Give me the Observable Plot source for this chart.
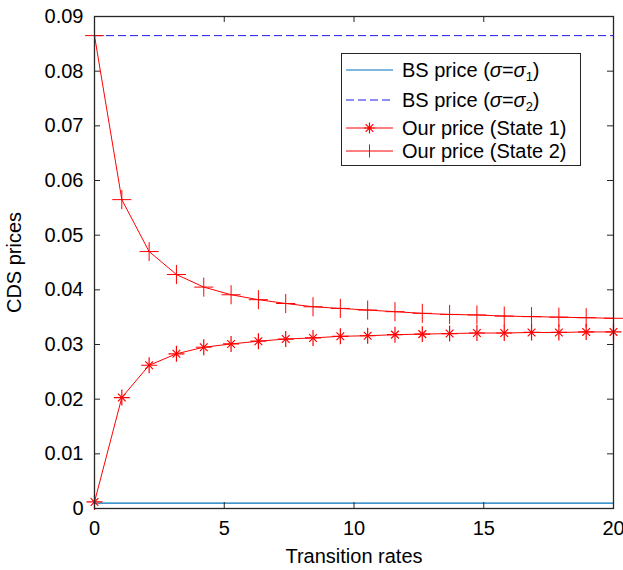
<!DOCTYPE html>
<html>
<head>
<meta charset="utf-8">
<script src="https://cdn.jsdelivr.net/npm/d3@7"></script>
<script src="https://cdn.jsdelivr.net/npm/@observablehq/plot@0.6"></script>
<style>
  html, body { margin: 0; padding: 0; background: #fff; }
  #wrap { position: relative; width: 623px; height: 570px; font-family: "Liberation Sans", Arial, Helvetica, sans-serif; }
  #wrap svg.plot { overflow: visible; }
  #legend { position: absolute; left: 341px; top: 53px; width: 240px; height: 113px; border: 1px solid #262626; background: #fff; box-sizing: border-box; }
  .row { position: absolute; left: 0; height: 24px; font-size: 20px; line-height: 24px; white-space: nowrap; color: #000; }
  .row svg { position: absolute; left: 4px; top: 0; }
  .row span { position: absolute; left: 60px; top: 0; }
  sub { font-size: 13px; vertical-align: -4px; line-height: 0; }
</style>
</head>
<body>
<div id="wrap"></div>
<script>
// ---- data ----
const transitionRates = d3.range(20).map(i => i * 20 / 19);
const state1Prices = [0.0012, 0.0203, 0.0262, 0.0283, 0.0295, 0.0301, 0.0306, 0.0310, 0.0312, 0.0315,
                      0.0316, 0.0318, 0.0319, 0.0320, 0.0321, 0.0321, 0.0322, 0.0322, 0.0323, 0.0323];
const state2Prices = [0.0865, 0.0565, 0.0470, 0.0428, 0.0405, 0.0391, 0.0382, 0.0375, 0.0369, 0.0366,
                      0.0363, 0.0360, 0.0357, 0.0355, 0.0354, 0.0352, 0.0351, 0.0350, 0.0349, 0.0348];
const bsPriceSigma1 = 0.00097;
const bsPriceSigma2 = 0.0865;
const xTicks = [0, 5, 10, 15, 20];
const yTicks = [0, 0.01, 0.02, 0.03, 0.04, 0.05, 0.06, 0.07, 0.08, 0.09];
const yTickLabels = ["0", "0.01", "0.02", "0.03", "0.04", "0.05", "0.06", "0.07", "0.08", "0.09"];
const legendLabels = [
  'BS price (<i>σ</i>=<i>σ</i><sub>1</sub>)',
  'BS price (<i>σ</i>=<i>σ</i><sub>2</sub>)',
  'Our price (State 1)',
  'Our price (State 2)'
];

const s1 = transitionRates.map((x, i) => ({x, y: state1Prices[i]}));
const s2 = transitionRates.map((x, i) => ({x, y: state2Prices[i]}));

const W = 623, H = 570, mL = 94, mR = 10, mT = 16, mB = 62;
const pw = W - mL - mR, ph = H - mT - mB, tk = 6;
const frameColor = "#262626";
const red = "#ff0000";

const chart = Plot.plot({
  width: W, height: H,
  marginLeft: mL, marginRight: mR, marginTop: mT, marginBottom: mB,
  style: {fontFamily: "'Liberation Sans', Arial, Helvetica, sans-serif", fontSize: "20px", color: "#000", background: "#fff", overflow: "visible"},
  x: {domain: [0, 20]},
  y: {domain: [0, 0.09]},
  marks: [
    Plot.ruleY([bsPriceSigma1], {stroke: "#0072BD", strokeWidth: 1.2}),
    Plot.ruleY([bsPriceSigma2], {stroke: "#1a1ae6", strokeWidth: 1, strokeDasharray: "8,4"}),
    Plot.line(s2, {x: "x", y: "y", stroke: red, strokeWidth: 1}),
    Plot.line(s1, {x: "x", y: "y", stroke: red, strokeWidth: 1}),
    Plot.dot(s2, {x: "x", y: "y", symbol: "plus", r: 6.2, stroke: red, strokeWidth: 1}),
    Plot.dot(s1, {x: "x", y: "y", symbol: "plus", r: 5.2, stroke: red, strokeWidth: 1.2}),
    Plot.dot(s1, {x: "x", y: "y", symbol: "times", r: 3.6, stroke: red, strokeWidth: 1.2}),
    Plot.tickX(xTicks, {x: d => d, stroke: frameColor, insetTop: ph - tk}),
    Plot.tickX(xTicks, {x: d => d, stroke: frameColor, insetBottom: ph - tk}),
    Plot.tickY(yTicks, {y: d => d, stroke: frameColor, insetRight: pw - tk}),
    Plot.tickY(yTicks, {y: d => d, stroke: frameColor, insetLeft: pw - tk}),
    Plot.frame({stroke: frameColor, strokeWidth: 1.3}),
    Plot.axisX(xTicks, {tickSize: 0, tickPadding: 12, tickFormat: d => String(d),
      label: "Transition rates", labelAnchor: "center", labelArrow: "none", labelOffset: 54}),
    Plot.axisY(yTicks, {tickSize: 0, tickPadding: 11, tickFormat: (d, i) => yTickLabels[i],
      label: "CDS prices", labelAnchor: "center", labelArrow: "none", labelOffset: 88})
  ]
});

const wrap = document.getElementById("wrap");
wrap.appendChild(chart);

// legend
const legend = document.createElement("div");
legend.id = "legend";
const rowTops = [4, 34, 62, 85];
const samples = [
  '<svg width="50" height="24"><line x1="0" x2="47" y1="12" y2="12" stroke="#0072BD" stroke-width="1.2"/></svg>',
  '<svg width="50" height="24"><line x1="0" x2="47" y1="12" y2="12" stroke="#1a1ae6" stroke-width="1" stroke-dasharray="8,4"/></svg>',
  '<svg width="50" height="24"><line x1="0" x2="47" y1="12" y2="12" stroke="#ff0000"/><path d="M23.5,6.5V17.5M18.3,12H28.7M19.6,8.1L27.4,15.9M27.4,8.1L19.6,15.9" stroke="#ff0000" stroke-width="1.2" fill="none"/></svg>',
  '<svg width="50" height="24"><line x1="0" x2="47" y1="12" y2="12" stroke="#ff0000"/><path d="M23.5,5.5V18.5" stroke="#ff0000" fill="none"/></svg>'
];
legendLabels.forEach((lab, i) => {
  const row = document.createElement("div");
  row.className = "row";
  row.style.top = rowTops[i] + "px";
  row.innerHTML = samples[i] + "<span>" + lab + "</span>";
  legend.appendChild(row);
});
wrap.appendChild(legend);
</script>
</body>
</html>
